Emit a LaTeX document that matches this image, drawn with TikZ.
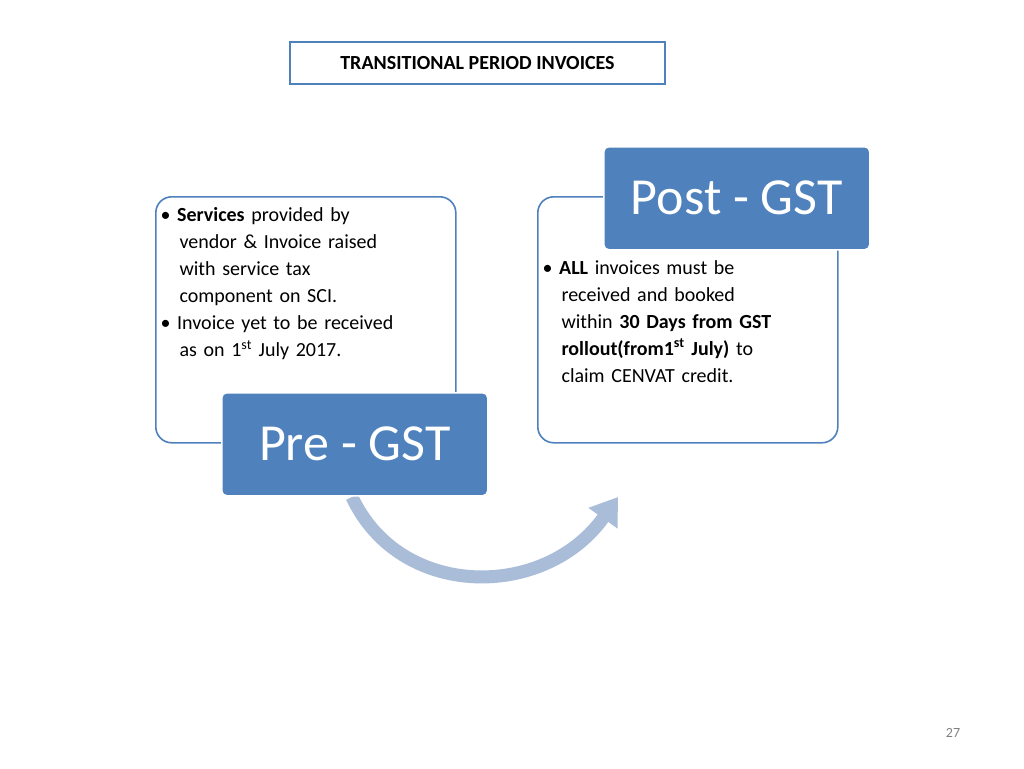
\documentclass[tikz,border=0pt]{standalone}
\usepackage{fontspec}
\setmainfont{Carlito}
\usetikzlibrary{positioning,arrows.meta}
\definecolor{gstblue}{HTML}{4F81BD}
\definecolor{arrowgray}{HTML}{A9BCD8}
\tikzset{
  textbox/.style={draw=gstblue,line width=1.6pt,rounded corners=16pt,fill=white,
    minimum width=300pt,minimum height=246pt,anchor=north west},
  gstbox/.style={fill=gstblue,draw=white,line width=1.5pt,rounded corners=5pt,text=white,
    minimum width=266pt,minimum height=103pt,anchor=north west,
    font=\fontsize{52}{52}\selectfont},
  bodytext/.style={anchor=north west,align=left,text width=285pt,
    font=\fontsize{20}{27}\selectfont}
}
\begin{document}
\begin{tikzpicture}[x=1pt,y=-1pt]
	\useasboundingbox (0,0) rectangle (1024,768);
	
	%title
	\node[draw=gstblue,line width=1.3pt,minimum width=375pt,minimum height=42pt,
	  font=\fontsize{20}{20}\selectfont\bfseries] (title) at (477.5,63) {TRANSITIONAL PERIOD INVOICES};
	
	%arrow
	\draw[arrowgray,line width=13pt,-{Triangle[length=26pt,width=34pt]}] (352,497)
	  .. controls (400,600) and (545,600) .. (618,497);
	
	%boxes
	\node[textbox] (pre) at (155,196) {};
	\node[textbox] (post) at (537,196) {};
	\node[bodytext] (pretext) at (157,204) {\textbullet\ \textbf{Services} provided by\\
	  \hspace*{19pt}vendor \& Invoice raised\\
	  \hspace*{19pt}with service tax\\
	  \hspace*{19pt}component on SCI.\\
	  \textbullet\ Invoice yet to be received\\
	  \hspace*{19pt}as on 1\textsuperscript{st} July 2017.};
	\node[bodytext] (posttext) at (539,257) {\textbullet\ \textbf{ALL} invoices must be\\
	  \hspace*{19pt}received and booked\\
	  \hspace*{19pt}within \textbf{30 Days from GST}\\
	  \hspace*{19pt}\textbf{rollout(from1\textsuperscript{st} July)} to\\
	  \hspace*{19pt}claim CENVAT credit.};
	\node[gstbox] (pregst) at (221,392) {Pre - GST};
	\node[gstbox] (postgst) at (603,146) {Post - GST};
	
	%page
	\node[text=gray,font=\fontsize{14}{14}\selectfont] (page) at (953,733) {27};
\end{tikzpicture}
\end{document}
